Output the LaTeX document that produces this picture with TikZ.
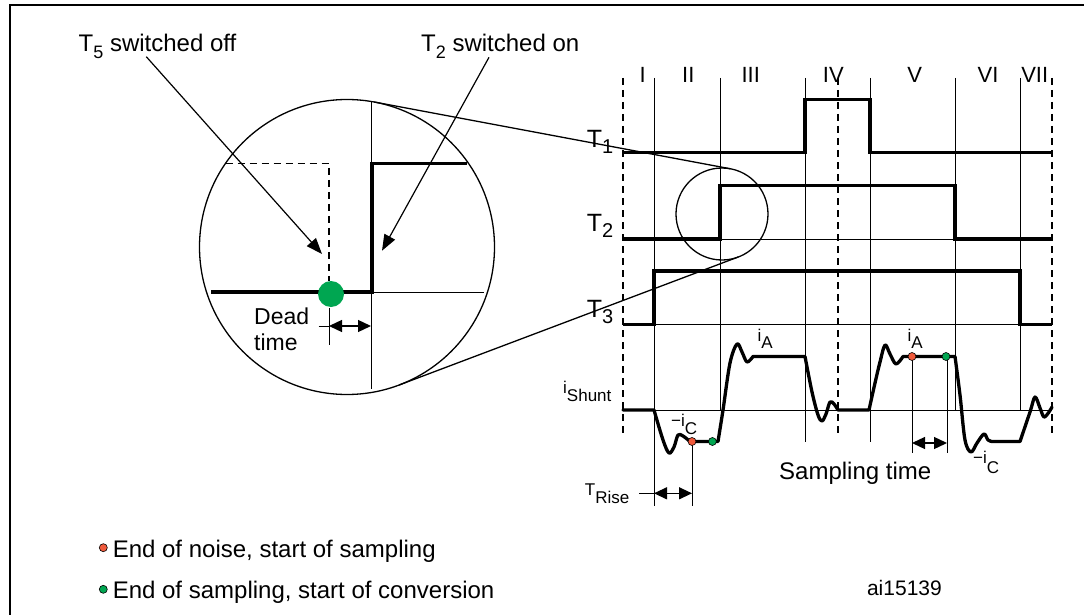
\documentclass[tikz,border=0pt]{standalone}
\usepackage{fontspec}
\setmainfont{Liberation Sans}
\usetikzlibrary{arrows.meta}
\definecolor{dotgreen}{RGB}{0,166,81}
\definecolor{dotred}{RGB}{240,90,60}
\newcommand\fsz[1]{\fontsize{#1}{#1}\selectfont}
\newcommand\lowr[3]{\raisebox{-#1pt}{\fsz{#2}#3}}
\begin{document}
\begin{tikzpicture}[x=1pt,y=-1pt,
  thinl/.style={line width=1pt},
  frameline/.style={line width=2pt},
  circl/.style={line width=1.3pt},
  wave/.style={line width=3.3pt, line join=miter, line cap=butt},
  cur/.style={line width=3.3pt, line join=round, line cap=round},
  dashl/.style={line width=1.2pt, dash pattern=on 7pt off 5pt},
  dimarrow/.style={line width=1.3pt, {Triangle[length=13pt,width=12pt]}-{Triangle[length=13pt,width=12pt]}},
  callout/.style={line width=1.2pt, -{Triangle[length=16pt,width=12pt]}},
  smpl/.style={circle, draw=black, line width=0.6pt, inner sep=0pt, minimum size=8pt},
  lbl/.style={inner sep=0pt, anchor=base west},
  roman/.style={inner sep=0pt, font=\fsz{22}}]
\useasboundingbox (0,0) rectangle (1084,615);
% frame
\draw[frameline] (9.5,615) -- (9.5,5.5) -- (1084,5.5);

% ---------- header texts and callouts ----------
\node[lbl] (t5off) at (78.5,51.7) {\fsz{24}T\lowr{7}{18}{5} switched off};
\node[lbl] (t2on) at (421,51.7) {\fsz{24}T\lowr{7}{18}{2} switched on};
\coordinate (a1s) at (146.3,56.7);
\coordinate (a1e) at (322,254);
\coordinate (a2s) at (489,57.3);
\coordinate (a2e) at (382,250.7);

% ---------- magnified circle ----------
\draw[circl] (347,247) circle[radius=147.5pt];
\draw[thinl] (371,101.5) -- (371,389);
\draw[thinl] (372,292) -- (484,292);
\draw[dashl] (225.6,163.3) -- (329,163.3) -- (329,281);
\draw[wave] (211,292) -- (372,292) -- (372,163.3) -- (467,163.3);
\fill[dotgreen] (331,294) circle[radius=13pt];
\draw[thinl] (329,308) -- (329,345);
\draw[thinl] (318.5,326) -- (329,326);
\coordinate (dt1) at (329,326);
\coordinate (dt2) at (371,326);
\draw[dimarrow] (dt1) -- (dt2);
\node[lbl] (dead) at (254,324) {\fsz{23}Dead};
\node[lbl] (dtime) at (254,350) {\fsz{23}time};
\draw[callout] (a1s) -- (a1e);
\draw[callout] (a2s) -- (a2e);

% small circle and tangents
\draw[circl] (722,214) circle[radius=46pt];
\draw[circl] (374.2,102) -- (730.5,168.8);
\draw[circl] (399.1,385) -- (738.2,257);

% ---------- grid ----------
\foreach \x in {623,838,1052} \draw[dashl] (\x,78) -- (\x,437);
\draw[thinl] (654,78) -- (654,505.7);
\draw[thinl] (720,78) -- (720,410);
\draw[thinl] (805,78) -- (805,441.7);
\draw[thinl] (870,78) -- (870,441.7);
\draw[thinl] (955,78) -- (955,410);
\draw[thinl] (1020,78) -- (1020,410);
\draw[thinl] (623,239) -- (1052,239);
\draw[thinl] (623,324.5) -- (1052,324.5);
\draw[thinl] (623,410) -- (1052,410);

% roman numerals
\node[roman] (n1) at (642.7,75) {I};
\node[roman] (n2) at (688.3,75) {II};
\node[roman] (n3) at (750.7,75) {III};
\node[roman] (n4) at (833.3,75) {IV};
\node[roman] (n5) at (914.7,75) {V};
\node[roman] (n6) at (988,75) {VI};
\node[roman] (n7) at (1034.7,75) {VII};

% ---------- T waveforms ----------
\draw[wave] (623,152.7) -- (805,152.7) -- (805,99.3) -- (870,99.3) -- (870,152.7) -- (1052,152.7);
\draw[wave] (623,239) -- (720,239) -- (720,185.5) -- (955,185.5) -- (955,239) -- (1052,239);
\draw[wave] (623,324.5) -- (654,324.5) -- (654,271) -- (1020,271) -- (1020,324.5) -- (1052,324.5);
\node[lbl] (lt1) at (586.7,147.7) {\fsz{25}T\lowr{6}{20}{1}};
\node[lbl] (lt2) at (586.7,231) {\fsz{25}T\lowr{6}{20}{2}};
\node[lbl] (lt3) at (586.7,317) {\fsz{25}T\lowr{6}{20}{3}};

% ---------- shunt current ----------
\draw[cur] (623,410) -- (654,410)
 -- plot[smooth,tension=0.55] coordinates {(654,410) (663,440) (669,453) (674,447) (678,435) (683,436) (690,441.5)}
 -- (718,441.5)
 -- plot[smooth,tension=0.55] coordinates {(718,441.5) (723,410) (730,363) (737,344) (742,352) (747,362) (753,356.5)}
 -- (805,356.5)
 -- plot[smooth,tension=0.55] coordinates {(805,356.5) (812,392) (818,415) (822,421) (826,414) (830,402) (834,404) (838,410)}
 -- (869,410)
 -- plot[smooth,tension=0.55] coordinates {(869,410) (875,383) (880,362) (885,345) (890,354) (896,364) (903,356.5)}
 -- (955,356.5)
 -- plot[smooth,tension=0.55] coordinates {(955,356.5) (960,395) (965,440) (971,452) (977,443) (984,434) (988,440) (992,441.5)}
 -- (1020,441.5)
 -- plot[smooth,tension=0.55] coordinates {(1020,441.5) (1030,412) (1035,397) (1040,408) (1044,417) (1049,412) (1052,407)};

\node[lbl] (ish) at (563,393.3) {\fsz{17}i\lowr{8}{17}{Shunt}};
\node[lbl] (ia1) at (757.3,341.7) {\fsz{17}i\lowr{6.6}{17}{A}};
\node[lbl] (ia2) at (907.5,341.7) {\fsz{17}i\lowr{6.6}{17}{A}};
\node[lbl] (ic1) at (671,426.7) {\fsz{17}−i\lowr{7.3}{17}{C}};
\node[lbl] (ic2) at (973,463.3) {\fsz{17}−i\lowr{10}{17}{C}};

% sampling points
\coordinate (r1b) at (692,505.7);
\coordinate (r2b) at (912,452.7);
\coordinate (g2b) at (947,452.7);
\draw[thinl] (692,441.5) -- (r1b);
\draw[thinl] (912,356.5) -- (r2b);
\draw[thinl] (947,356.5) -- (g2b);
\node[smpl, fill=dotred] (r1) at (692,441.5) {};
\node[smpl, fill=dotgreen] (g1) at (712.4,441.5) {};
\node[smpl, fill=dotred] (r2) at (912,356.5) {};
\node[smpl, fill=dotgreen] (g2) at (946,356.5) {};

% sampling time dimension
\coordinate (st1) at (912,443);
\coordinate (st2) at (947,443);
\draw[dimarrow] (st1) -- (st2);
\node[lbl] (stxt) at (779,479) {\fsz{24}Sampling time};

% T rise dimension
\coordinate (tr0) at (639,493.3);
\coordinate (tr1) at (654,493.3);
\coordinate (tr2) at (692,493.3);
\draw[thinl] (tr0) -- (tr1);
\draw[dimarrow] (tr1) -- (tr2);
\node[lbl] (trise) at (584.7,495.7) {\fsz{17}T\lowr{7.6}{17}{Rise}};

% ---------- legend ----------
\node[smpl, fill=dotred] (lgr) at (103.3,547.7) {};
\node[smpl, fill=dotgreen] (lgg) at (103.3,589.3) {};
\node[lbl] (lgrt) at (112.6,557.3) {\fsz{24}End of noise, start of sampling};
\node[lbl] (lggt) at (112.6,598.3) {\fsz{24}End of sampling, start of conversion};
\node[inner sep=0pt, anchor=base east] (code) at (942,595) {\fsz{21}ai15139};
\end{tikzpicture}
\end{document}
